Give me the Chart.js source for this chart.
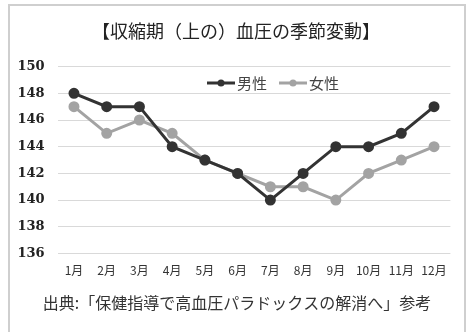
<!DOCTYPE html>
<html>
<head>
<meta charset="utf-8">
<script src="https://cdn.jsdelivr.net/npm/chart.js@4"></script>
<style>
html,body{margin:0;padding:0;background:#fff;}
#wrap{width:472px;height:332px;position:relative;}
</style>
</head>
<body>
<div id="wrap"><canvas id="c" width="472" height="332"></canvas></div>
<script>
const months = ['1月','2月','3月','4月','5月','6月','7月','8月','9月','10月','11月','12月'];
const male = [148,147,147,144,143,142,140,142,144,144,145,147];
const female = [147,145,146,145,143,142,141,141,140,142,143,144];
const seriesNames = ['男性','女性'];
const titleText = '【収縮期（上の）血圧の季節変動】';
const sourceText = '出典:「保健指導で高血圧パラドックスの解消へ」参考';

const MALE_COLOR = '#333333';
const FEMALE_COLOR = '#a3a3a3';
const CJK = '"Noto Sans CJK JP", sans-serif';

const decor = {
  id: 'decor',
  beforeDraw(chart) {
    const ctx = chart.ctx;
    ctx.save();
    ctx.fillStyle = '#fff';
    ctx.fillRect(0, 0, chart.width, chart.height);
    ctx.strokeStyle = '#cfcfcf';
    ctx.lineWidth = 2;
    ctx.beginPath();
    ctx.moveTo(9, 332);
    ctx.lineTo(9, 5);
    ctx.lineTo(465, 5);
    ctx.lineTo(465, 332);
    ctx.stroke();
    ctx.restore();
  },
  afterDraw(chart) {
    const ctx = chart.ctx;
    ctx.save();
    ctx.fillStyle = '#222';
    ctx.textAlign = 'center';
    ctx.textBaseline = 'middle';
    ctx.font = '18px ' + CJK;
    ctx.fillText(titleText, 236, 31);
    ctx.fillStyle = '#333';
    ctx.font = '16px ' + CJK;
    ctx.fillText(sourceText, 237, 303);
    const items = [
      {x: 207, color: chart.data.datasets[0].borderColor, label: chart.data.datasets[0].label},
      {x: 279, color: chart.data.datasets[1].borderColor, label: chart.data.datasets[1].label}
    ];
    const ly = 83;
    items.forEach(it => {
      ctx.strokeStyle = it.color;
      ctx.fillStyle = it.color;
      ctx.lineWidth = 3;
      ctx.beginPath();
      ctx.moveTo(it.x, ly);
      ctx.lineTo(it.x + 28, ly);
      ctx.stroke();
      ctx.beginPath();
      ctx.arc(it.x + 14, ly, 3.5, 0, Math.PI * 2);
      ctx.fill();
      ctx.fillStyle = '#444';
      ctx.textAlign = 'left';
      ctx.font = '15px ' + CJK;
      ctx.fillText(it.label, it.x + 30, ly);
    });
    ctx.restore();
  }
};

new Chart(document.getElementById('c'), {
  type: 'line',
  data: {
    labels: months,
    datasets: [
      {label: seriesNames[0], data: male, borderColor: MALE_COLOR, backgroundColor: MALE_COLOR,
       borderWidth: 3, pointRadius: 4, pointBackgroundColor: MALE_COLOR, pointBorderColor: MALE_COLOR, tension: 0},
      {label: seriesNames[1], data: female, borderColor: FEMALE_COLOR, backgroundColor: FEMALE_COLOR,
       borderWidth: 3, pointRadius: 4, pointBackgroundColor: FEMALE_COLOR, pointBorderColor: FEMALE_COLOR, tension: 0}
    ]
  },
  options: {
    responsive: false,
    animation: false,
    devicePixelRatio: 1,
    layout: {padding: {left: 0, right: 21.6, top: 66.6, bottom: 48.5}},
    plugins: {legend: {display: false}, title: {display: false}, tooltip: {enabled: false}},
    scales: {
      x: {
        offset: true,
        grid: {display: false, drawTicks: false},
        border: {display: false},
        ticks: {color: '#333', font: {family: CJK, size: 12}, padding: 10, maxRotation: 0, autoSkip: false},
        afterFit(s) { s.height = 30; }
      },
      y: {
        min: 136, max: 150,
        ticks: {stepSize: 2, color: '#222', font: {family: '"DejaVu Serif", serif', size: 13, weight: 'bold'}, padding: 13},
        grid: {color: '#d9d9d9', lineWidth: 1, drawTicks: false},
        border: {display: false},
        afterFit(s) { s.width = 57.6; }
      }
    }
  },
  plugins: [decor]
});
</script>
</body>
</html>
